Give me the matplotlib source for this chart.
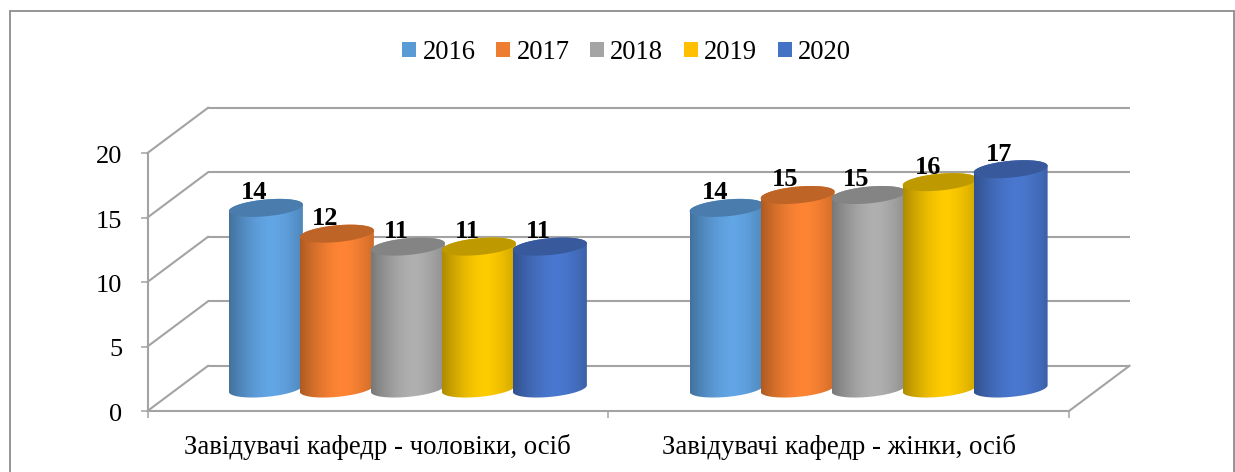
import numpy as np
import matplotlib
matplotlib.use("Agg")
import matplotlib.pyplot as plt
from matplotlib.path import Path
from matplotlib.patches import PathPatch, Patch, Rectangle
from matplotlib.colors import to_rgb

years = ["2016", "2017", "2018", "2019", "2020"]
categories = ["Завідувачі кафедр - чоловіки, осіб", "Завідувачі кафедр - жінки, осіб"]
men = [14, 12, 11, 11, 11]
women = [14, 15, 15, 16, 17]
series_values = [men, women]
colors = ["#62A6E6", "#FF8534", "#B0B0B0", "#FFCC00", "#4A78D0"]
legend_colors = ["#5B9BD5", "#ED7D31", "#A5A5A5", "#FFC000", "#4472C4"]
y_ticks = [0, 5, 10, 15, 20]

W, H = 1235, 472
plt.rcParams["font.family"] = ["Liberation Serif", "DejaVu Serif"]
fig = plt.figure(figsize=(W / 100, H / 100), dpi=100)
fig.patches.append(Rectangle((9.5 / W, -0.02), (1234 - 9.5) / W, 1.02 - 10.5 / H, transform=fig.transFigure,
                             fill=False, ec="#8c8c8c", lw=1.3))
L, R, B, T = 147.5, 1069, 411, 153
ax = fig.add_axes([L / W, 1 - B / H, (R - L) / W, (B - T) / H])
ax.set_xlim(0, 2)
ax.set_ylim(0, 20)
ax.patch.set_alpha(0)
for s in ax.spines.values():
    s.set_visible(False)

px = 2 / (R - L)          # data units per pixel, x
py = 20 / (B - T)         # data units per pixel, y
dx, dy = 60.5 * px, 45.2 * py
gc = "#a3a3a3"
lw = 1.5
for v in y_ticks:
    ax.plot([dx, 2 + dx], [v + dy, v + dy], color=gc, lw=lw, clip_on=False, zorder=1,
            solid_capstyle="butt")
    ax.plot([0, dx], [v, v + dy], color=gc, lw=lw, clip_on=False, zorder=1)
ax.plot([0, 0], [0, 20], color=gc, lw=lw, clip_on=False, zorder=1)
ax.plot([0, 2], [0, 0], color=gc, lw=lw, clip_on=False, zorder=1)
ax.plot([2, 2 + dx], [0, dy], color=gc, lw=lw, clip_on=False, zorder=1)
ax.set_yticks(y_ticks)
ax.set_xticks([0, 1, 2])
ax.set_xticklabels([])
ax.tick_params(axis="y", length=5.2, width=1.1, color=gc, labelsize=19, pad=13)
ax.tick_params(axis="x", length=5.2, width=1.1, color=gc)
for lab in ax.get_yticklabels():
    lab.set_transform(lab.get_transform() + matplotlib.transforms.Affine2D().translate(0, -1.5))

pitch = 71 * px
a, b, k = 37 * px, 8.4 * py, 3.3 * py
base = 22.5 * py
offset_x = 30 * px

t = np.linspace(0, 2 * np.pi, 121)
def ell(cx, cy, tt):
    return cx + a * np.cos(tt), cy + b * np.sin(tt) + k * np.cos(tt)

def shade(col):
    c = np.array(to_rgb(col))
    u = np.linspace(0, 1, 256)
    f = 0.68 + 0.32 * np.clip(1 - (np.abs(u - 0.58) / 0.58) ** 1.6, 0, 1)
    return (c[None, :] * f[:, None])[None, :, :]

for g, vals in enumerate(series_values):
    for i, v in enumerate(vals):
        cx = g + 0.5 + offset_x + (i - 2) * pitch
        z = 3 + i + g * 10
        top = v + base
        low = np.linspace(np.pi, 2 * np.pi, 60)
        up = np.linspace(0, np.pi, 60)
        xb, yb = ell(cx, base, low)
        xt, yt = ell(cx, top, up)
        verts = np.r_[np.c_[xb, yb], np.c_[xt, yt], [[xb[0], yb[0]]]]
        body = PathPatch(Path(verts), fc="none", ec="none", zorder=z, transform=ax.transData)
        ax.add_patch(body)
        im = ax.imshow(shade(colors[i]), extent=[cx - a, cx + a, 0, 20], aspect="auto",
                       zorder=z, interpolation="bilinear")
        im.set_clip_path(body)
        xe, ye = ell(cx, top, t)
        ax.fill(xe, ye, color=np.array(to_rgb(colors[i])) * 0.75, lw=0, zorder=z + 0.1)
        ax.text(cx - 12 * px, top + 15 * py, str(v), ha="center", va="center", fontsize=19,
                fontweight="bold", zorder=40, color="black")
ax.set_xlim(0, 2)
ax.set_ylim(0, 20)

for x, c in zip([0.5, 1.5], categories):
    ax.text(x, -43 * py, c, ha="center", va="baseline", fontsize=19.25, clip_on=False)

handles = [Patch(fc=c, ec="none", label=y) for c, y in zip(legend_colors, years)]
fig.legend(handles=handles, ncol=5, loc="center", bbox_to_anchor=(626.5 / W, 1 - 52.5 / H), frameon=False,
           fontsize=19.2, handlelength=0.525, handleheight=0.525, handletextpad=0.25, columnspacing=0.76)
fig.savefig("out.png", dpi=100)
